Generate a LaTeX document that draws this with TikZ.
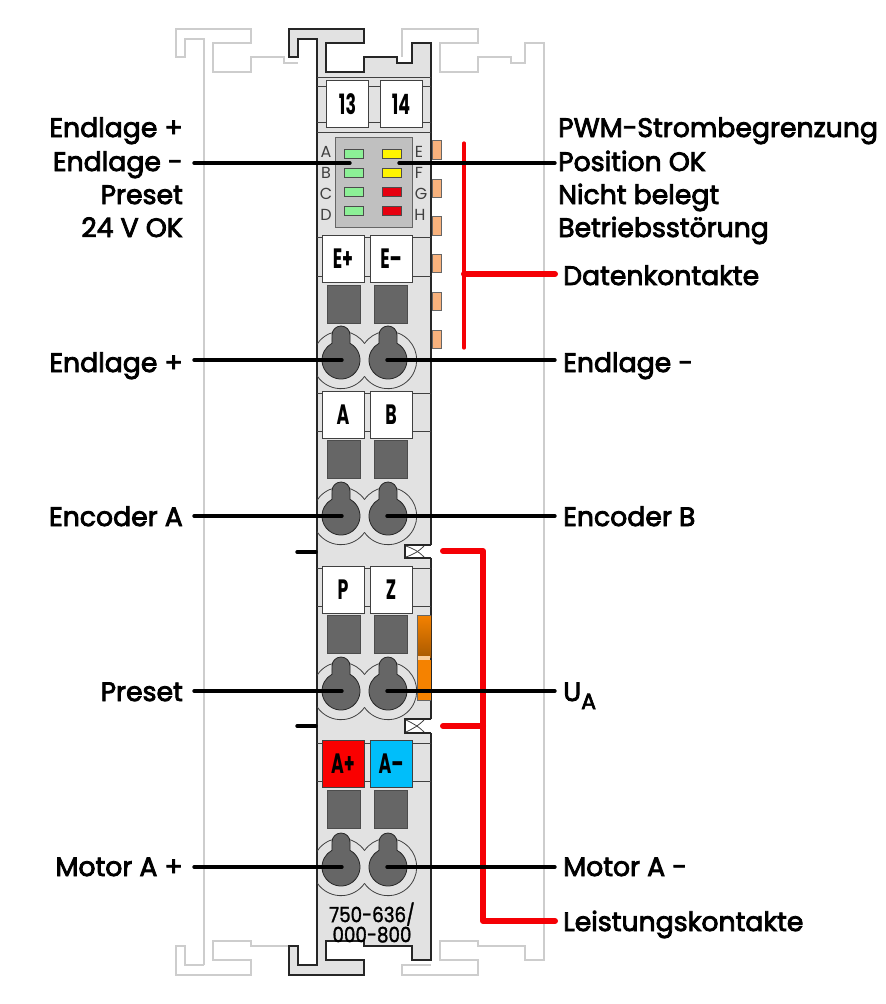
\documentclass[tikz,border=0pt]{standalone}
\usepackage{fontspec}
\usepackage{tikz}
\usetikzlibrary{positioning}
\setmainfont{Poppins}
\newfontfamily\labfont[FakeBold=3]{Poppins}
\newfontfamily\tagfont[FakeStretch=0.62]{Poppins}
\newfontfamily\typfont[FakeStretch=0.87,FakeBold=1.5]{Poppins}
\definecolor{body}{RGB}{226,226,226}
\definecolor{rail}{RGB}{205,205,205}
\definecolor{panel}{RGB}{192,192,192}
\definecolor{slot}{RGB}{102,102,102}
\definecolor{contact}{RGB}{248,178,125}
\definecolor{ledgreen}{RGB}{140,240,150}
\definecolor{ledyellow}{RGB}{255,245,0}
\definecolor{ledred}{RGB}{230,0,15}
\definecolor{tagred}{RGB}{250,0,0}
\definecolor{tagblue}{RGB}{0,190,250}
\definecolor{wred}{RGB}{245,0,5}
\definecolor{uorange}{RGB}{245,130,0}
\definecolor{ubrown}{RGB}{170,90,0}
% one hole of the cage clamp, with its rim
\newcommand{\keyhole}[2]{
  \draw[hole] (#1-9,#2+25) arc (180:0:9) -- (#1+9,#2+16.7) arc (61.7:-241.7:19) -- cycle;
}
\newcommand{\clamprim}[1]{
  \draw[fine] (364.5,#1+16.5) arc (35:325:28.7);
  \draw[fine] (364.5,#1+16.5) arc (145:-145:28.7);
}
\begin{document}
\begin{tikzpicture}[x=1pt,y=1pt,line join=miter,
  outl/.style={draw=black!85,line width=1.9pt},
  railline/.style={draw=rail,line width=1.9pt},
  fine/.style={draw=black!75,line width=.8pt},
  hole/.style={draw=black!85,line width=.8pt,fill=slot},
  slotbox/.style={draw=black!70,line width=.8pt,fill=slot,minimum width=33pt,minimum height=38pt,inner sep=0pt},
  tagbox/.style={draw=black!75,line width=.8pt,fill=white,minimum width=42pt,minimum height=47pt,inner sep=0pt,
    font=\tagfont\bfseries\fontsize{28}{28}\selectfont},
  led/.style={draw=black!70,line width=.8pt,minimum width=19pt,minimum height=9pt,inner sep=0pt},
  pin/.style={draw=black!60,line width=.8pt,fill=contact,minimum width=9pt,minimum height=18.5pt,inner sep=0pt},
  ledlab/.style={text=black!75,inner sep=0pt,font=\fontsize{16}{16}\selectfont},
  labl/.style={anchor=east,inner sep=0pt,inner xsep=11pt,text height=22pt,text depth=2pt,font=\labfont\fontsize{26.7}{26.7}\selectfont},
  labr/.style={anchor=west,inner sep=0pt,inner xsep=8pt,text height=22pt,text depth=2pt,font=\labfont\fontsize{26.7}{26.7}\selectfont},
  labs/.style={labr,inner xsep=3pt},
  wire/.style={draw=black,line width=3.4pt,line cap=round},
  feed/.style={draw=wred,line width=6pt,line cap=round,line join=round}]
  \useasboundingbox (0,-1004) rectangle (886,0);

  % rails behind the module
  \draw[railline] (204,-965) -- (204,-39) -- (185,-39) -- (185,-57) -- (176,-57) -- (176,-29) -- (251,-29)
    -- (251,-43) -- (213,-43) -- (213,-72) -- (251,-72) -- (251,-57) -- (284,-57) -- (284,-63) -- (298,-63);
  \draw[railline] (402,-57) -- (402,-29) -- (478,-29) -- (478,-43) -- (440,-43) -- (440,-72) -- (478,-72)
    -- (478,-57) -- (511,-57) -- (511,-63) -- (525,-63) -- (525,-43) -- (544,-43) -- (544,-960) -- (525,-960)
    -- (525,-946) -- (478,-946) -- (478,-941) -- (440,-941) -- (440,-960) -- (478,-960) -- (478,-975)
    -- (402,-975) -- (402,-965) -- (431,-965);
  \draw[railline] (204,-965) -- (185,-965) -- (185,-946) -- (176,-946) -- (176,-975) -- (251,-975) -- (251,-960)
    -- (213,-960) -- (213,-941) -- (251,-941) -- (251,-946) -- (288,-946);

  % housing
  \draw[outl,fill=body] (289,-29) -- (364,-29) -- (364,-43) -- (326,-43) -- (326,-72) -- (364,-72) -- (364,-57)
    -- (397,-57) -- (397,-63) -- (412,-63) -- (412,-43) -- (431,-43) -- (431,-960) -- (412,-960) -- (412,-946)
    -- (364,-946) -- (364,-941) -- (326,-941) -- (326,-960) -- (364,-960) -- (364,-975) -- (289,-975) -- (289,-946)
    -- (298,-946) -- (298,-965) -- (317,-965) -- (317,-39) -- (298,-39) -- (298,-57) -- (289,-57) -- cycle;

  % thin lines across the housing
  \draw[fine] (317,-77) -- (431,-77);
  \draw[fine] (317,-86) -- (431,-86);
  \draw[fine] (317,-122) -- (431,-122);
  \draw[fine] (317,-132) -- (431,-132);
  \draw[fine] (317,-237) -- (431,-237);
  \draw[fine] (317,-276) -- (431,-276);
  \draw[fine] (317,-393) -- (431,-393);
  \draw[fine] (317,-431) -- (431,-431);
  \draw[fine] (317,-568) -- (431,-568);
  \draw[fine] (317,-606) -- (431,-606);
  \draw[fine] (317,-743) -- (431,-743);
  \draw[fine] (317,-781) -- (431,-781);

  % marker strips
  \node[tagbox] (t13) at (347.5,-104) {13};
  \node[tagbox] (t14) at (401,-104) {14};
  \node[tagbox] (tEp) at (343,-258.5) {E+};
  \node[tagbox] (tEm) at (391,-258.5) {E–};
  \node[tagbox] (tA) at (343,-414.5) {A};
  \node[tagbox] (tB) at (391,-414.5) {B};
  \node[tagbox] (tP) at (343,-589.5) {P};
  \node[tagbox] (tZ) at (391,-589.5) {Z};
  \node[tagbox,fill=tagred] (tAp) at (343,-763.5) {A+};
  \node[tagbox,fill=tagblue] (tAm) at (391,-763.5) {A–};

  % LED panel
  \node[draw=black!60,line width=.8pt,fill=panel,minimum width=77pt,minimum height=90pt,inner sep=0pt] (ledpanel) at (373.5,-182) {};
  \node[led,fill=ledgreen] (ledA) at (353.5,-153.5) {};
  \node[led,fill=ledgreen] (ledB) at (353.5,-172.5) {};
  \node[led,fill=ledgreen] (ledC) at (353.5,-191.5) {};
  \node[led,fill=ledgreen] (ledD) at (353.5,-210.5) {};
  \node[led,fill=ledyellow] (ledE) at (391.5,-153.5) {};
  \node[led,fill=ledyellow] (ledF) at (391.5,-172.5) {};
  \node[led,fill=ledred] (ledG) at (391.5,-191.5) {};
  \node[led,fill=ledred] (ledH) at (391.5,-210.5) {};
  \node[ledlab] (lbA) at (326,-152) {A};
  \node[ledlab] (lbB) at (326,-173) {B};
  \node[ledlab] (lbC) at (326,-194) {C};
  \node[ledlab] (lbD) at (326,-215) {D};
  \node[ledlab] (lbE) at (419,-152) {E};
  \node[ledlab] (lbF) at (419,-173) {F};
  \node[ledlab] (lbG) at (421,-194) {G};
  \node[ledlab] (lbH) at (420,-215) {H};

  % data contacts
  \node[pin] (pin1) at (436.5,-150) {};
  \node[pin] (pin2) at (436.5,-188.5) {};
  \node[pin] (pin3) at (436.5,-226) {};
  \node[pin] (pin4) at (436.5,-263.5) {};
  \node[pin] (pin5) at (436.5,-301.5) {};
  \node[pin] (pin6) at (436.5,-339.5) {};

  % test slots
  \node[slotbox] (s1) at (343.5,-304) {};
  \node[slotbox] (s2) at (390.5,-304) {};
  \node[slotbox] (s3) at (343.5,-459.5) {};
  \node[slotbox] (s4) at (390.5,-459.5) {};
  \node[slotbox] (s5) at (343.5,-634) {};
  \node[slotbox] (s6) at (390.5,-634) {};
  \node[slotbox] (s7) at (343.5,-809) {};
  \node[slotbox] (s8) at (390.5,-809) {};

  % orange power jumper
  \fill[uorange] (417,-660) rectangle (431,-700);
  \shade[top color=uorange,bottom color=ubrown] (417,-615) rectangle (431,-657);
  \draw[fine,draw=black!60] (417,-700) -- (417,-615) -- (431,-615);
  \draw[fine,draw=black!60] (417,-700) -- (431,-700);
  \fill[white!60!uorange] (417.5,-656) rectangle (430,-660);

  % clamps
  \begin{scope}
    \clip (317,-300) rectangle (431,-900);
    \clamprim{-360}
    \clamprim{-516}
    \clamprim{-691}
    \clamprim{-867}
  \end{scope}
  \keyhole{341}{-360}
  \keyhole{388}{-360}
  \keyhole{341}{-516}
  \keyhole{388}{-516}
  \keyhole{341}{-691}
  \keyhole{388}{-691}
  \keyhole{341}{-867}
  \keyhole{388}{-867}

  % notches of the power contacts
  \fill[white] (405,-545) rectangle (432.5,-558);
  \draw[outl] (431,-545) -- (405,-545) -- (405,-558) -- (431,-558);
  \draw[fine] (406,-546) .. controls (414,-549) and (418,-551) .. (424,-557);
  \draw[fine] (406,-557) .. controls (414,-554) and (418,-552) .. (424,-546);
  \fill[white] (405,-719) rectangle (432.5,-733);
  \draw[outl] (431,-719) -- (405,-719) -- (405,-733) -- (431,-733);
  \draw[fine] (406,-720) .. controls (414,-724) and (418,-726) .. (424,-732);
  \draw[fine] (406,-732) .. controls (414,-728) and (418,-726) .. (424,-720);

  % type number
  \node[inner sep=0pt,align=center,font=\typfont\fontsize{21}{17}\selectfont] (typ) at (372,-922.5) {750-636/\\000-800};

  % labels on the left
  \node[labl] (lEndP) at (194,-127) {Endlage +};
  \node[labl] (lEndM) at (194,-161) {Endlage -};
  \node[labl] (lPre) at (194,-194) {Preset};
  \node[labl] (lOk) at (194,-227) {24 V OK};
  \node[labl] (lInP) at (194,-362) {Endlage +};
  \node[labl] (lEncA) at (194,-516) {Encoder A};
  \node[labl] (lInPre) at (194,-691) {Preset};
  \node[labl] (lMotP) at (194,-866) {Motor A +};

  % labels on the right
  \node[labs] (rPwm) at (555,-127) {PWM-Strombegrenzung};
  \node[labs] (rPos) at (555,-161) {Position OK};
  \node[labs] (rNb) at (555,-194) {Nicht belegt};
  \node[labs] (rStoer) at (555,-227) {Betriebsstörung};
  \node[labr] (rData) at (555,-275) {Datenkontakte};
  \node[labr] (rInM) at (555,-362) {Endlage -};
  \node[labr] (rEncB) at (555,-516) {Encoder B};
  \node[labr] (rUa) at (555,-691) {U\raisebox{-8pt}{\fontsize{22}{22}\selectfont A}};
  \node[labr] (rMotM) at (555,-866) {Motor A -};
  \node[labr] (rPower) at (555,-921) {Leistungskontakte};

  % free ends of the wires
  \coordinate (hA) at (350,-163);
  \coordinate (hB) at (399,-163);
  \coordinate (c1) at (342,-360);
  \coordinate (c2) at (387,-360);
  \coordinate (c3) at (342,-516);
  \coordinate (c4) at (387,-516);
  \coordinate (c5) at (342,-691);
  \coordinate (c6) at (387,-691);
  \coordinate (c7) at (342,-867);
  \coordinate (c8) at (387,-867);
  \coordinate (g1) at (297,-552);
  \coordinate (g2) at (316,-552);
  \coordinate (g3) at (297,-726);
  \coordinate (g4) at (316,-726);
  \coordinate (d1) at (464,-143);
  \coordinate (d2) at (464,-348);
  \coordinate (d3) at (464,-274);
  \coordinate (p1) at (443,-551);
  \coordinate (p2) at (483,-551);
  \coordinate (p3) at (483,-921);
  \coordinate (p4) at (443,-726);
  \coordinate (p5) at (483,-726);

  % red feeds
  \draw[feed,line width=3.2pt] (d1) -- (d2);
  \draw[feed] (d3) -- (rData.west |- d3);
  \draw[feed] (p1) -- (p2) -- (p3) -- (rPower.west);
  \draw[feed] (p4) -- (p5);

  % black wires
  \draw[wire] (lEndM.east |- hA) -- (hA);
  \draw[wire] (rPos.west |- hB) -- (hB);
  \draw[wire] (lInP.east |- c1) -- (c1);
  \draw[wire] (rInM.west |- c2) -- (c2);
  \draw[wire] (lEncA.east) -- (c3);
  \draw[wire] (rEncB.west) -- (c4);
  \draw[wire] (lInPre.east) -- (c5);
  \draw[wire] (rUa.west) -- (c6);
  \draw[wire] (lMotP.east |- c7) -- (c7);
  \draw[wire] (rMotM.west |- c8) -- (c8);
  \draw[wire] (g1) -- (g2);
  \draw[wire] (g3) -- (g4);
\end{tikzpicture}
\end{document}
